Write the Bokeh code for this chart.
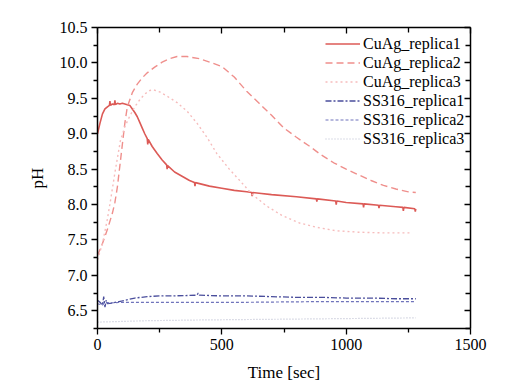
from bokeh.plotting import figure
from bokeh.models import (LinearAxis, FixedTicker, Legend, LegendItem, NumeralTickFormatter, Range1d,
                          CustomJSTickFormatter)
from bokeh.embed import file_html
from bokeh.resources import INLINE

# ---- data ----
cuag1_t = [0, 10, 20, 30, 40, 48, 50, 52, 60, 68, 70, 72, 80, 90, 100, 110, 120, 130, 140, 150, 160, 170,
           180, 190, 200, 202, 204, 220, 240, 260, 278, 280, 282, 310, 340, 370, 390, 392, 394, 450, 500,
           550, 600, 620, 622, 624, 650, 700, 800, 880, 882, 884, 958, 960, 962, 1000, 1068, 1070, 1072,
           1130, 1132, 1134, 1200, 1228, 1230, 1232, 1276, 1278, 1280]
cuag1_v = [9.00, 9.15, 9.28, 9.35, 9.38, 9.40, 9.46, 9.40, 9.42, 9.41, 9.47, 9.41, 9.43, 9.42, 9.43, 9.42,
           9.41, 9.40, 9.35, 9.30, 9.24, 9.16, 9.08, 9.00, 8.93, 8.85, 8.92, 8.82, 8.72, 8.63, 8.56, 8.50,
           8.55, 8.46, 8.40, 8.34, 8.31, 8.26, 8.31, 8.26, 8.23, 8.20, 8.18, 8.17, 8.12, 8.17, 8.16, 8.14,
           8.11, 8.08, 8.04, 8.08, 8.05, 8.00, 8.05, 8.03, 8.01, 7.96, 8.01, 7.99, 7.95, 7.99, 7.97, 7.96,
           7.91, 7.96, 7.94, 7.90, 7.94]

cuag2_t = [0, 20, 40, 60, 70, 80, 90, 100, 110, 120, 140, 160, 180, 200, 230, 260, 290, 320, 360, 410, 460,
           500, 550, 600, 650, 700, 750, 800, 850, 900, 950, 1000, 1050, 1100, 1150, 1200, 1250, 1280]
cuag2_v = [7.28, 7.45, 7.65, 7.88, 8.03, 8.25, 8.55, 8.85, 9.15, 9.38, 9.58, 9.70, 9.79, 9.86, 9.94, 10.01,
           10.06, 10.09, 10.09, 10.06, 10.00, 9.95, 9.80, 9.60, 9.43, 9.26, 9.08, 8.95, 8.83, 8.70, 8.59, 8.50,
           8.42, 8.34, 8.27, 8.22, 8.18, 8.17]

cuag3_t = [0, 20, 40, 52, 70, 92, 110, 130, 150, 170, 190, 210, 225, 250, 280, 320, 360, 400, 440, 480, 530,
           572, 620, 680, 740, 812, 880, 960, 1050, 1150, 1264]
cuag3_v = [7.22, 7.45, 7.80, 8.05, 8.45, 8.90, 9.10, 9.25, 9.38, 9.48, 9.56, 9.61, 9.62, 9.59, 9.53, 9.44,
           9.32, 9.15, 8.95, 8.72, 8.50, 8.34, 8.15, 7.98, 7.85, 7.74, 7.68, 7.63, 7.61, 7.60, 7.60]

ss1_t = [0, 10, 20, 25, 30, 35, 40, 60, 100, 150, 200, 250, 300, 400, 405, 410, 500, 600, 700, 800, 900,
         1000, 1100, 1200, 1280]
ss1_v = [6.65, 6.62, 6.58, 6.70, 6.55, 6.65, 6.60, 6.61, 6.64, 6.68, 6.70, 6.71, 6.71, 6.72, 6.75, 6.72,
         6.71, 6.71, 6.70, 6.69, 6.69, 6.68, 6.68, 6.67, 6.67]

ss2_t = [0, 20, 30, 50, 100, 300, 600, 900, 1280]
ss2_v = [6.60, 6.58, 6.62, 6.61, 6.62, 6.62, 6.62, 6.63, 6.63]

ss3_t = [0, 100, 200, 400, 700, 1000, 1280]
ss3_v = [6.34, 6.35, 6.36, 6.37, 6.38, 6.39, 6.40]

names = ["CuAg_replica1", "CuAg_replica2", "CuAg_replica3", "SS316_replica1", "SS316_replica2", "SS316_replica3"]
x_ticks = [0, 500, 1000, 1500]
y_ticks = [6.5, 7.0, 7.5, 8.0, 8.5, 9.0, 9.5, 10.0, 10.5]

FONT = "Liberation Serif"

p = figure(width=505, height=387, output_backend="svg", toolbar_location=None,
           x_range=Range1d(0, 1500), y_range=Range1d(6.25, 10.5),
           min_border_left=97, min_border_right=35, min_border_top=27, min_border_bottom=59)
p.grid.visible = False
p.outline_line_color = None
p.background_fill_color = "white"
p.border_fill_color = "white"

styles = [
    dict(color="#dc5a56", dash="solid", width=1.6),
    dict(color="#ef8f8c", dash="7 4", width=1.4),
    dict(color="#f6bcbc", dash="2 3", width=1.4),
    dict(color="#4a4e9c", dash="6 2 2 2", width=1.3),
    dict(color="#6f73bb", dash="3 2", width=1.2),
    dict(color="#b9bccf", dash="1 2", width=1.2),
]
series = [(cuag1_t, cuag1_v), (cuag2_t, cuag2_v), (cuag3_t, cuag3_v),
          (ss1_t, ss1_v), (ss2_t, ss2_v), (ss3_t, ss3_v)]

items = []
for (t, v), st, nm in zip(series, styles, names):
    r = p.line(t, v, line_color=st["color"], line_dash=st["dash"], line_width=st["width"])
    items.append(LegendItem(label=nm, renderers=[r]))

legend = Legend(items=items, location=(228, 180), border_line_color=None, background_fill_alpha=0,
                padding=0, margin=0, spacing=0, glyph_width=35, glyph_height=19, label_height=19,
                label_standoff=3, label_text_font=FONT, label_text_font_size="16px",
                label_text_color="black")
p.add_layout(legend)

def style_axis(ax):
    ax.axis_line_width = 1.5
    ax.axis_line_color = "black"
    ax.major_tick_line_color = "black"
    ax.minor_tick_line_color = "black"
    ax.major_tick_line_width = 1.3
    ax.minor_tick_line_width = 1.3
    ax.major_label_text_font = FONT
    ax.major_label_text_font_size = "16px"
    ax.major_label_text_color = "black"
    ax.axis_label_text_font = FONT
    ax.axis_label_text_font_size = "17px"
    ax.axis_label_text_font_style = "normal"
    ax.axis_label_text_color = "black"

xt = FixedTicker(ticks=x_ticks, minor_ticks=[250, 750, 1250])
yt = FixedTicker(ticks=y_ticks, minor_ticks=[6.25, 6.75, 7.25, 7.75, 8.25, 8.75, 9.25, 9.75, 10.25])

p.xaxis.ticker = xt
p.yaxis.ticker = yt
p.xaxis.axis_label = "Time [sec]"
p.yaxis.axis_label = "pH"
p.yaxis.formatter = NumeralTickFormatter(format="0.0")
for ax in (p.xaxis[0], p.yaxis[0]):
    style_axis(ax)
    ax.major_tick_out = 6
    ax.major_tick_in = 0
    ax.minor_tick_out = 4
    ax.minor_tick_in = 0
    ax.major_label_standoff = 4
    ax.axis_label_standoff = 10

blank = CustomJSTickFormatter(code="return ''")
top = LinearAxis(ticker=xt, formatter=blank)
right = LinearAxis(ticker=yt, formatter=blank)
for ax in (top, right):
    style_axis(ax)
    ax.major_label_standoff = 0
    ax.major_tick_out = 0
    ax.major_tick_in = 6
    ax.minor_tick_out = 0
    ax.minor_tick_in = 5
p.add_layout(top, "above")
p.add_layout(right, "right")

open("out.html", "w").write(file_html(p, INLINE))
